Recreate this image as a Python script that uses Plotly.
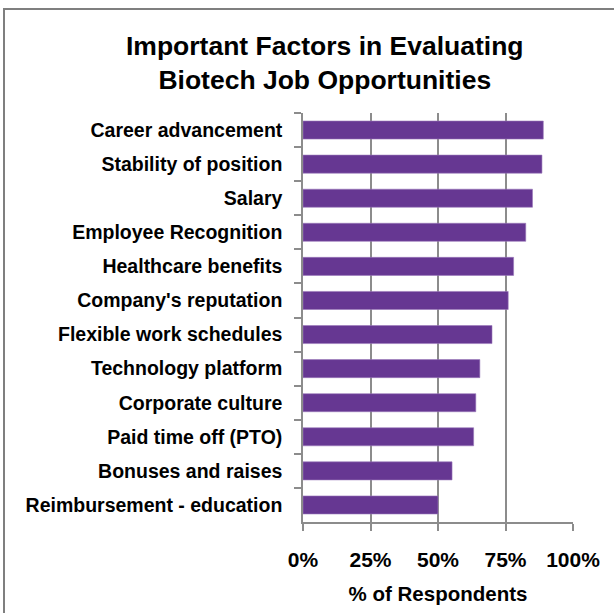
import plotly.graph_objects as go

categories = [
    "Career advancement",
    "Stability of position",
    "Salary",
    "Employee Recognition",
    "Healthcare benefits",
    "Company's reputation",
    "Flexible work schedules",
    "Technology platform",
    "Corporate culture",
    "Paid time off (PTO)",
    "Bonuses and raises",
    "Reimbursement - education",
]
values = [0.89, 0.885, 0.85, 0.825, 0.78, 0.76, 0.70, 0.655, 0.64, 0.632, 0.552, 0.50]
x_ticks = [0, 0.25, 0.5, 0.75, 1.0]
x_tick_labels = ["0%", "25%", "50%", "75%", "100%"]

W, H = 614, 613
L, R, T, B = 303, 41, 113, 91
pw, ph = W - L - R, H - T - B

def px_x(p):
    return (p - L) / pw

def px_y(p):
    return (H - B - p) / ph

FONT = "Liberation Sans, Arial, sans-serif"
GRID = "#8c8c8c"

fig = go.Figure(go.Bar(
    x=values, y=categories, orientation="h",
    marker=dict(color="#663792", line=dict(color="#9a78bb", width=0.6)),
    width=0.53,
))

fig.update_layout(
    width=W, height=H,
    margin=dict(l=L, r=R, t=T, b=B, autoexpand=False),
    paper_bgcolor="white", plot_bgcolor="white",
    showlegend=False,
    font=dict(family=FONT, color="black"),
    xaxis=dict(
        range=[0, 1], tickvals=x_ticks, ticktext=x_tick_labels,
        showgrid=True, gridcolor=GRID, gridwidth=1.5,
        showline=True, linecolor=GRID, linewidth=1.5,
        ticks="outside", ticklen=7, tickcolor=GRID, tickwidth=1.5,
        tickfont=dict(family=FONT, size=21, color="black", weight="bold"),
        ticklabelstandoff=11,
        zeroline=False,
        title=dict(text="% of Respondents", font=dict(family=FONT, size=20.5, color="black", weight="bold"), standoff=17),
        automargin=False,
    ),
    yaxis=dict(
        autorange="reversed",
        showgrid=False,
        showline=True, linecolor=GRID, linewidth=1.5,
        ticks="outside", ticklen=7, tickcolor=GRID, tickwidth=1.5,
        tickson="boundaries",
        tickfont=dict(family=FONT, size=19.5, color="black", weight="bold"),
        ticklabelstandoff=15,
        automargin=False,
    ),
    annotations=[dict(
        text="Important Factors in Evaluating<br>Biotech Job Opportunities",
        xref="paper", yref="paper", x=px_x(325), y=px_y(62.5),
        xanchor="center", yanchor="middle", showarrow=False,
        font=dict(family=FONT, size=26.5, color="black", weight="bold"),
    )],
    shapes=[dict(
        type="rect", xref="paper", yref="paper",
        x0=px_x(4), x1=px_x(640), y0=px_y(640), y1=px_y(9),
        line=dict(color="#7f7f7f", width=2), fillcolor="rgba(0,0,0,0)", layer="above",
    )],
)

fig.write_html("out.html")
